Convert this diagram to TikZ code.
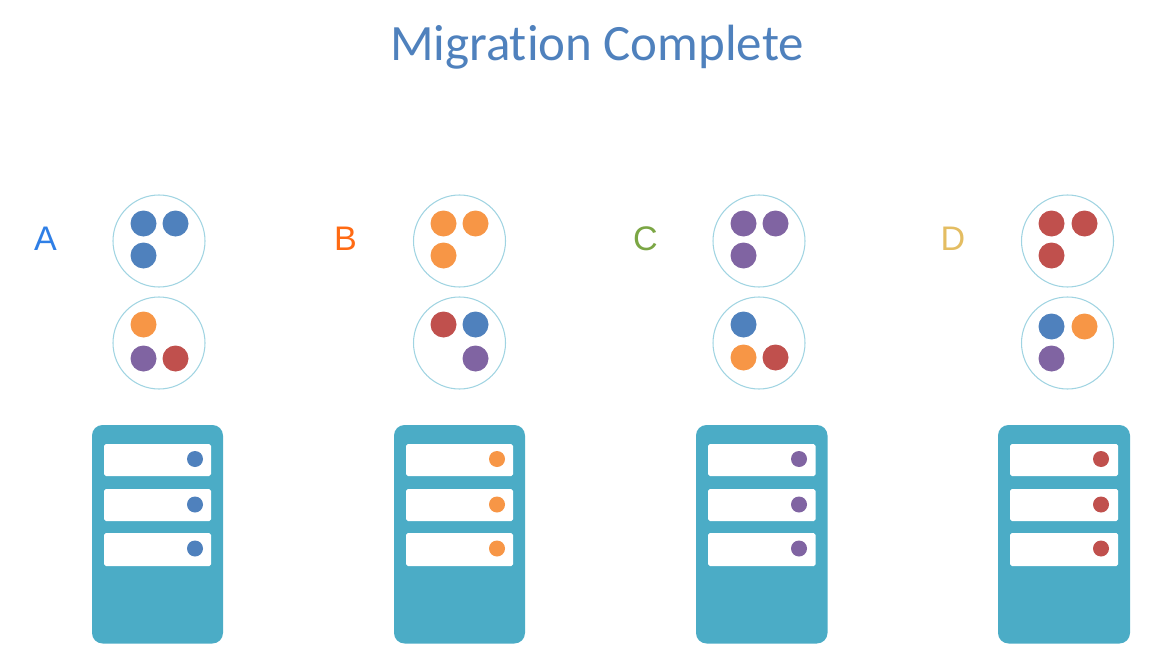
\documentclass[tikz,border=0pt]{standalone}
\usepackage{fontspec}
\setmainfont{Liberation Sans}
\newfontfamily\titlefont[Ligatures=NoCommon]{Carlito}
\definecolor{dotblue}{HTML}{4F81BD}
\definecolor{dotorange}{HTML}{F79646}
\definecolor{dotpurple}{HTML}{8064A2}
\definecolor{dotred}{HTML}{C0504D}
\definecolor{rackteal}{HTML}{4BACC6}
\definecolor{ringblue}{HTML}{A0D4E2}
\definecolor{letterA}{HTML}{2F7FE6}
\definecolor{letterB}{HTML}{FF6A13}
\definecolor{letterC}{HTML}{7BA644}
\definecolor{letterD}{HTML}{E4BD62}
\tikzset{
	ring/.style={draw=ringblue,line width=.6pt,fill=white},
	letter/.style={font=\fontsize{19.4}{22}\selectfont},
}
% rack at left edge #1, right edge #2, dots in colour #3 at x=#4
\newcommand{\rack}[4]{
	\fill[rackteal,rounded corners=6pt] (#1,425) rectangle (#2,643.5);
	\fill[white,rounded corners=1pt] (#1+12,444) rectangle (#2-12,476);
	\fill[white,rounded corners=1pt] (#1+12,489) rectangle (#2-12,521);
	\fill[white,rounded corners=1pt] (#1+12,533) rectangle (#2-12,566);
	\fill[#3] (#4,459) circle (8);
	\fill[#3] (#4,504.5) circle (8);
	\fill[#3] (#4,548.5) circle (8);
}
\newcommand{\tok}[3]{\fill[#1] (#2+.5,#3+.5) circle (13);}

\begin{document}
\begin{tikzpicture}[x=0.02cm,y=-0.02cm]
	\useasboundingbox (0,0) rectangle (1163,669);
	\node[text=dotblue,font=\titlefont\fontsize{29}{32}\selectfont] (title) at (597,47) {Migration Complete};
	% A
	\node[letter,text=letterA] (labelA) at (45.5,238.5) {A};
	\draw[ring] (159,241) circle (46);
	\draw[ring] (159,343) circle (46);
	\tok{dotblue}{143}{223} \tok{dotblue}{175}{223} \tok{dotblue}{143}{255}
	\tok{dotorange}{143}{324} \tok{dotpurple}{143}{358} \tok{dotred}{175}{358}
	\rack{92}{223}{dotblue}{195}
	% B
	\node[letter,text=letterB] (labelB) at (345.5,238.5) {B};
	\draw[ring] (459.5,241) circle (46);
	\draw[ring] (459.5,343) circle (46);
	\tok{dotorange}{443}{223} \tok{dotorange}{475}{223} \tok{dotorange}{443}{255}
	\tok{dotred}{443}{324} \tok{dotblue}{475}{324} \tok{dotpurple}{475}{358}
	\rack{394}{525}{dotorange}{497}
	% C
	\node[letter,text=letterC] (labelC) at (645.5,238.5) {C};
	\draw[ring] (759,241) circle (46);
	\draw[ring] (759,343) circle (46);
	\tok{dotpurple}{743}{223} \tok{dotpurple}{775}{223} \tok{dotpurple}{743}{255}
	\tok{dotblue}{743}{324} \tok{dotorange}{743}{357} \tok{dotred}{775}{357}
	\rack{696}{827.5}{dotpurple}{799}
	% D
	\node[letter,text=letterD] (labelD) at (953,238.5) {D};
	\draw[ring] (1067.5,241) circle (46);
	\draw[ring] (1067.5,343) circle (46);
	\tok{dotred}{1051}{223} \tok{dotred}{1084}{223} \tok{dotred}{1051}{255}
	\tok{dotblue}{1051}{326} \tok{dotorange}{1084}{326} \tok{dotpurple}{1051}{358}
	\rack{998}{1130}{dotred}{1101}
\end{tikzpicture}
\end{document}
